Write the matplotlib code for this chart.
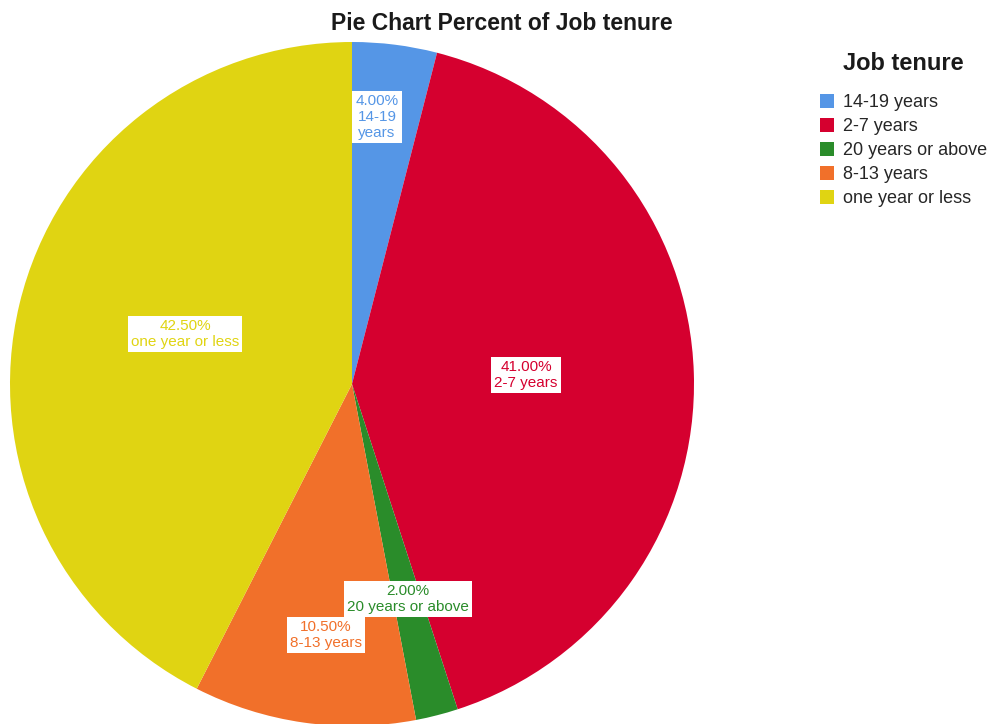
import matplotlib
matplotlib.use("Agg")
import matplotlib.pyplot as plt

plt.rcParams['font.family'] = ['Liberation Sans', 'DejaVu Sans']

# job tenure shares, in the order they are drawn clockwise from 12 o'clock
categories = ['14-19 years', '2-7 years', '20 years or above', '8-13 years', 'one year or less']
percents = [4.00, 41.00, 2.00, 10.50, 42.50]
colors = ['#5596e6', '#d5002f', '#2a8c2a', '#f1702a', '#e0d412']

# where each label box sits (pixel coords, y measured upward)
label_x = [377, 526, 408, 326, 185]
label_y = [607, 349, 125, 89, 390]
label_text = ['4.00%\n14-19\nyears', '41.00%\n2-7 years', '2.00%\n20 years or above',
              '10.50%\n8-13 years', '42.50%\none year or less']

W, H = 995, 724
fig = plt.figure(figsize=(W / 100, H / 100), dpi=100, facecolor='white')
ax = fig.add_axes([0, 0, 1, 1])

wedges, _ = ax.pie(percents, colors=colors, startangle=90, counterclock=False,
                   center=(352, 340), radius=342, frame=True,
                   wedgeprops=dict(linewidth=0))
ax.set_xlim(0, W)
ax.set_ylim(0, H)
ax.set_aspect('equal')
ax.axis('off')

for x, y, t, c in zip(label_x, label_y, label_text, colors):
    ax.text(x, y, t, ha='center', va='center', color=c, fontsize=11,
            linespacing=1.15,
            bbox=dict(boxstyle='square,pad=0.2', facecolor='white', edgecolor='none'))

ax.text(502, 701, 'Pie Chart Percent of Job tenure', ha='center', va='center',
        fontsize=16.5, fontweight='bold', color='#1a1a1a')

# legend title drawn on its own so the gap below it can be set
ax.text(903, H - 63, 'Job tenure', ha='center', va='center',
        fontsize=17, fontweight='bold', color='#1a1a1a')
leg = ax.legend(wedges, categories, loc='upper left',
                bbox_to_anchor=(811 / W, 1 - 85 / H), frameon=False,
                fontsize=13, handlelength=0.8, handleheight=0.8,
                handletextpad=0.5, labelspacing=0.38, borderpad=0)
for t in leg.get_texts():
    t.set_color('#262626')

fig.savefig('out.png', dpi=100, facecolor='white')
